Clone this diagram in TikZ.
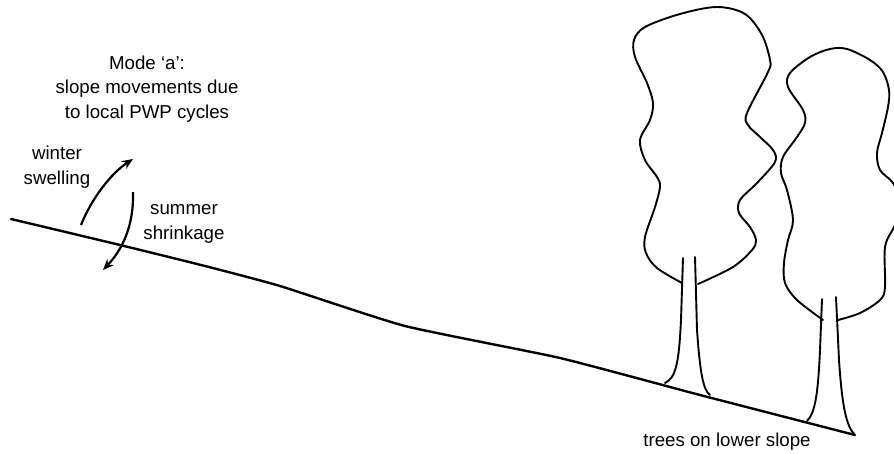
\documentclass[tikz,border=0pt]{standalone}
\usepackage{fontspec}
\setmainfont{Liberation Sans}
\usetikzlibrary{arrows.meta}
\begin{document}
\begin{tikzpicture}[x=1pt,y=-1pt,
  label/.style={font=\fontsize{18.7}{24.5}\selectfont, align=center, inner sep=0pt},
  ground/.style={line width=2.4pt, line join=round, line cap=round},
  outline/.style={line width=1.9pt, line join=round, line cap=round},
  motion/.style={line width=2.2pt, -{Stealth[length=11pt,width=9pt]}}]
\useasboundingbox (0,0) rectangle (894,453);
\clip (0,0) rectangle (894,453);

% ground surface of the slope
\draw[ground] plot[smooth, tension=0.3] coordinates
  {(11,219) (120,245) (205,266) (280,286) (405,326) (560,358) (700,395) (855,435)};

% text labels
\node[label] (mode) at (147,89) {Mode ‘a’:\\slope movements due\\to local PWP cycles};
\node[label] (winter) at (57,167) {winter\\swelling};
\node[label] (summer) at (184,224) {summer\\shrinkage};
\node[label] (trees) at (727,442) {trees on lower slope};

% seasonal movement arrows
\coordinate (ws) at (81,225);
\coordinate (we) at (133,159);
\coordinate (ss) at (133,192);
\coordinate (se) at (103,270);
\draw[motion] (ws) .. controls (91,200) and (110,174) .. (we);
\draw[motion] (ss) .. controls (134,226) and (122,250) .. (se);

% first tree: crown
\draw[outline] plot[smooth, tension=0.55] coordinates {
  (682,283) (657,268) (646,253) (645,237) (655,207) (660,187) (657,177)
  (645,160) (640,140) (650,120) (653,103) (647,83) (635,57) (634,40)
  (645,27) (680,14) (717,7) (745,14) (762,35) (770,60) (768,72)
  (747,113) (748,125) (760,137) (773,150) (775,162) (757,183) (740,200)
  (739,213) (750,227) (756,240) (752,250) (733,267) (698,284)};
% first tree: trunk
\draw[outline] (683,258) -- (681,320) .. controls (679,362) and (676,378) .. (665,383);
\draw[outline] (695,257) -- (697,330) .. controls (700,372) and (703,390) .. (710,395);

% second tree: crown
\draw[outline] plot[smooth, tension=0.55] coordinates {
  (823,320) (797,300) (785,283) (784,263) (788,240) (793,220) (787,190)
  (781,173) (783,157) (797,137) (805,123) (803,110) (788,87) (790,73)
  (810,57) (830,49) (847,49) (870,60) (883,72) (889,90) (888,107)
  (882,133) (877,153) (880,170) (893,183) (903,205) (894,227) (885,247)
  (885,287) (880,300) (860,313) (838,320)};
% second tree: trunk
\draw[outline] (822,299) -- (820,350) .. controls (818,395) and (815,413) .. (807,421);
\draw[outline] (836,297) -- (839,360) .. controls (842,405) and (846,425) .. (854,434);
\end{tikzpicture}
\end{document}
